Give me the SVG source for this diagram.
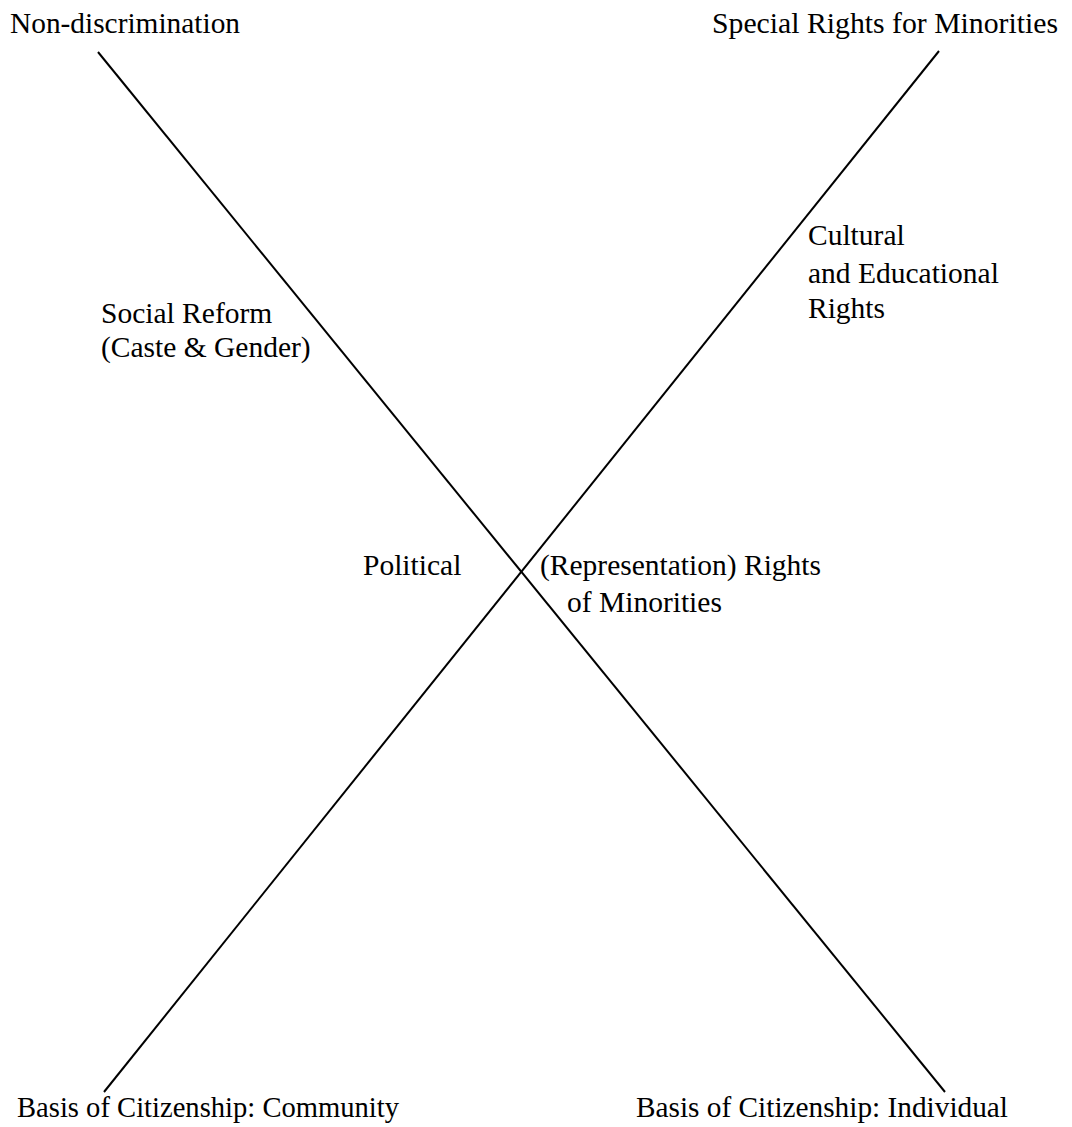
<svg xmlns="http://www.w3.org/2000/svg" width="1072" height="1127" viewBox="0 0 1072 1127">
<style>
text { font-family: "Liberation Serif", "Times New Roman", serif; font-size: 29.5px; fill: #000; }
.ln { stroke: #000; stroke-width: 2; fill: none; }
</style>
<rect width="1072" height="1127" fill="#fff"/>
<g id="connectors">
<line class="ln" x1="98" y1="52" x2="945" y2="1092"/>
<line class="ln" x1="939" y1="51" x2="104" y2="1092"/>
</g>
<g id="non-discrimination"><text x="10" y="33" textLength="230" lengthAdjust="spacingAndGlyphs">Non-discrimination</text></g>
<g id="special-rights"><text x="712" y="33" textLength="346" lengthAdjust="spacingAndGlyphs">Special Rights for Minorities</text></g>
<g id="social-reform">
<text x="101" y="323">Social Reform</text>
<text x="101" y="357">(Caste &amp; Gender)</text>
</g>
<g id="cultural">
<text x="808" y="245">Cultural</text>
<text x="808" y="283">and Educational</text>
<text x="808" y="318">Rights</text>
</g>
<g id="political"><text x="363" y="575">Political</text></g>
<g id="representation">
<text x="540" y="575">(Representation) Rights</text>
<text x="567" y="612">of Minorities</text>
</g>
<g id="community"><text x="17" y="1117" textLength="382" lengthAdjust="spacingAndGlyphs">Basis of Citizenship: Community</text></g>
<g id="individual"><text x="636" y="1117" textLength="372" lengthAdjust="spacingAndGlyphs">Basis of Citizenship: Individual</text></g>
</svg>
